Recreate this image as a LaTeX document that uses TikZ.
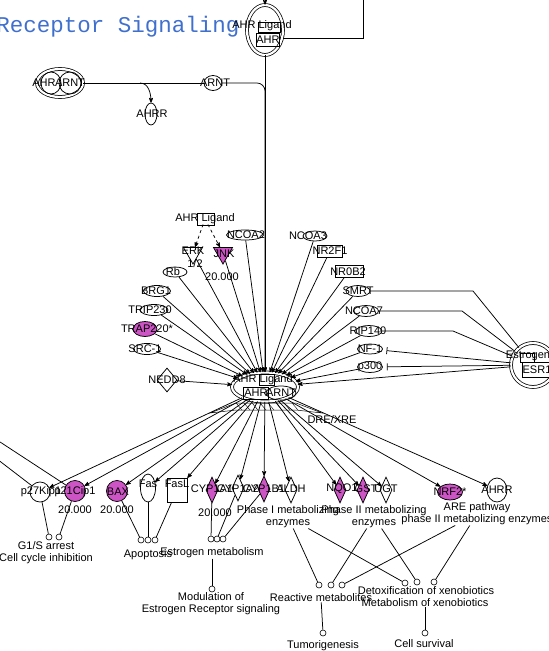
\documentclass[tikz,border=0pt]{standalone}
\usepackage{fontspec}
\setmainfont{Liberation Sans}
\newfontfamily\ttlfont{Liberation Mono}
\usetikzlibrary{arrows}
\usetikzlibrary{shapes.geometric}
\definecolor{hit}{RGB}{204,84,196}
\definecolor{ttl}{RGB}{64,112,206}

\begin{document}
\begin{tikzpicture}[x=1pt,y=-1pt,>=stealth',line width=0.75pt,
  every node/.style={font=\fontsize{11}{12}\selectfont,inner sep=0pt},
  gene/.style 2 args={draw,ellipse,minimum width=#1,minimum height=#2},
  box/.style 2 args={draw,rectangle,minimum width=#1,minimum height=#2},
  enz/.style={draw,diamond,minimum width=12pt,minimum height=26pt},
  kin/.style={draw,regular polygon,regular polygon sides=3,shape border rotate=180,minimum size=22pt},
  fn/.style={draw,circle,minimum size=6pt,line width=0.6pt},
  cx/.style={draw,ellipse,double,double distance=2.2pt}]
\useasboundingbox (0,0) rectangle (549,651);
\clip (0,0) rectangle (549,651);

\node[anchor=base west,font=\ttlfont\fontsize{22.5}{23}\selectfont,text=ttl] (title) at (-4,32) {Receptor Signaling};

% AHR complex at the top
\node[cx,minimum width=36pt,minimum height=50pt] (ahrtop) at (265,30) {};
\node (ahrtopt) at (262,26) {AHR Ligand};
\node[box={22pt}{10pt}] (ahrtopl) at (269,27) {};
\node[box={23pt}{13pt}] (ahrtopb) at (268,40) {AHR};
\coordinate (topin) at (265,-3);
\coordinate (topout) at (363,-3);
\draw[->] (topin) -- (ahrtop);
\draw ([yshift=-8pt]ahrtop.east) -| (topout);

% AHR/ARNT and AHRR
\node[cx,minimum width=46pt,minimum height=28pt] (ahrarnt) at (60,83) {};
\node[draw,ellipse,minimum width=20pt,minimum height=22pt] (ahrin) at (51,83) {};
\node[draw,ellipse,minimum width=22pt,minimum height=22pt] (arntin) at (70,83) {};
\node (ahrint) at (44,83) {AHR};
\node (arntint) at (70,83) {ARNT};
\node[gene={18pt}{15pt}] (arnt) at (213,83) {};
\node (arntt) at (215,83) {ARNT};
\coordinate (split) at (140,83);
\node[gene={12pt}{22pt}] (ahrr) at (151,114) {};
\node (ahrrt) at (152,114) {AHRR};
\draw (ahrarnt) -- (arnt);
\draw[->] (split) to[out=0,in=90] (ahrr);

% central complex
\node[cx,minimum width=66pt,minimum height=29pt] (cplx) at (265,387) {};
\node (cplxt) at (263,380) {AHR Ligand};
\node[box={15pt}{11pt}] (cplxl) at (267,380) {};
\node[box={25pt}{12pt}] (cplxb) at (256,393) {AHR};
\node[gene={30pt}{14pt}] (cplxe) at (281,393) {};
\node (cplxet) at (281,393) {ARNT};
\draw[line width=0.5pt] (210,413) -- (236,403) -- (296,403) -- (322,413) -- (296,410) -- (236,410) -- cycle;
\foreach \x in {242,250,...,298}
  \draw[line width=0.4pt] (\x,410) -- (\x-6,403);
\node (dre) at (332,420) {DRE/XRE};

% upper left partners
\node (lig) at (205,219) {AHR Ligand};
\node[box={17pt}{12pt}] (ligb) at (206,219) {};
\node[kin] (erk) at (193,253) {};
\node (erkt) at (193,251) {ERK};
\node (erkn) at (195,264) {1/2};
\node[kin,fill=hit] (jnk) at (223,253) {};
\node (jnkt) at (224,254) {JNK};
\node (jnkv) at (222,277) {20.000};
\draw[dashed,->] (lig) -- (erk);
\draw[dashed,->] (lig) -- (jnk);
\node[gene={37pt}{10pt}] (ncoa2) at (245,235) {};
\node (ncoa2t) at (246,235) {NCOA2};
\node[gene={24pt}{10pt}] (rb) at (175,272) {};
\node (rbt) at (173,272) {Rb};
\node[gene={27pt}{11pt}] (brg1) at (157,291) {};
\node (brg1t) at (156,291) {BRG1};
\node[gene={28pt}{11pt}] (trip) at (154,310) {};
\node (tript) at (150,310) {TRIP230};
\node[gene={24pt}{15pt},fill=hit] (trap) at (145,329) {};
\node (trapt) at (147,329) {TRAP220*};
\node[gene={27pt}{11pt}] (src) at (147,349) {};
\node (srct) at (145,349) {SRC-1};
\node[draw,diamond,minimum width=20pt,minimum height=24pt] (nedd8) at (167,380) {};
\node (nedd8t) at (167,380) {NEDD8};

% upper right partners
\node[gene={24pt}{10pt}] (ncoa3) at (315,236) {};
\node (ncoa3t) at (308,236) {NCOA3};
\node[box={25pt}{12pt}] (nr2f1) at (330,251) {};
\node (nr2f1t) at (330,251) {NR2F1};
\node[box={28pt}{12pt}] (nr0b2) at (349,271) {};
\node (nr0b2t) at (348,272) {NR0B2};
\node[gene={24pt}{11pt}] (smrt) at (358,291) {};
\node (smrtt) at (358,291) {SMRT};
\node[gene={25pt}{11pt}] (ncoa7) at (366,311) {};
\node (ncoa7t) at (364,311) {NCOA7};
\node[gene={26pt}{11pt}] (rip140) at (369,331) {};
\node (rip140t) at (368,331) {RIP140};
\node[gene={25pt}{10pt}] (nf1) at (370,349) {};
\node (nf1t) at (370,349) {NF-1};
\node[gene={25pt}{11pt}] (p300) at (370,367) {};
\node (p300t) at (370,367) {p300};

% estrogen receptor
\node[draw,circle,double,double distance=2.2pt,minimum size=44pt] (esr) at (533,365) {};
\node[box={14pt}{9pt}] (esrl) at (527,358) {};
\node (esrt) at (528,356) {Estrogen};
\node[box={30pt}{15pt}] (esrb) at (537,370) {ESR1};
\draw (smrt) -- (473,291) -- (esr);
\draw (ncoa7) -- (462,311) -- (esr);
\draw (rip140) -- (453,331) -- (esr);
\draw[-|,shorten >=4pt] (esr) -- (nf1);
\draw[-|,shorten >=4pt] (esr) -- (p300);
\draw[->] (esr) -- (cplx);

% into the complex
\foreach \n in {ncoa2,erk,jnk,rb,brg1,trip,trap,src,nedd8,ncoa3,nr2f1,nr0b2,smrt,ncoa7,rip140,nf1,p300}
  \draw[->] (\n) -- (cplx);
\draw[->] (ahrtop) -- (cplx);
\draw[->,rounded corners=8pt] (arnt) -| (cplx);

% targets
\node[draw,circle,minimum size=20pt] (p27) at (40,492) {};
\node (p27t) at (41,492) {p27Kip1};
\node[draw,circle,minimum size=21pt,fill=hit] (p21) at (75,491) {};
\node (p21t) at (75,492) {p21Cip1};
\node (p21v) at (75,510) {20.000};
\node[draw,circle,minimum size=21pt,fill=hit] (bax) at (117,491) {};
\node (baxt) at (118,492) {BAX};
\node (baxv) at (117,510) {20.000};
\node[gene={15pt}{28pt}] (fas) at (148,488) {};
\node (fast) at (148,484) {Fas};
\node[box={20pt}{24pt}] (fasl) at (177,490) {};
\node (faslt) at (177,484) {FasL};
\node[enz,fill=hit] (cyp1a1) at (212,490) {};
\node[enz] (cyp1a2) at (238,488) {};
\node[enz,fill=hit] (cyp1b1) at (264,489) {};
\node[enz] (aldh) at (291,490) {};
\node (cyp1a1t) at (212,489) {CYP1A1};
\node (cyp1a2t) at (238,489) {CYP1A2};
\node (cyp1b1t) at (264,489) {CYP1B1};
\node (aldht) at (291,489) {ALDH};
\node (cyp1a1v) at (215,513) {20.000};
\node[enz,fill=hit] (nqo1) at (340,490) {};
\node[enz,fill=hit] (gst) at (363,490) {};
\node[enz] (ugt) at (386,490) {};
\node (nqo1t) at (342,489) {NQO1};
\node (gstt) at (366,489) {GST};
\node (ugtt) at (386,489) {UGT};
\node[gene={25pt}{16pt},fill=hit] (nrf2) at (450,492) {};
\node (nrf2t) at (450,492) {NRF2*};
\node[gene={20pt}{24pt}] (ahrrb) at (497,490) {};
\node (ahrrbt) at (497,490) {AHRR};
\foreach \n in {p27,p21,bax,fas,fasl,cyp1a1,cyp1a2,cyp1b1,aldh,nqo1,gst,ugt,nrf2,ahrrb}
  \draw[->] (cplx) -- (\n);
\coordinate (offa) at (-3,440);
\coordinate (offb) at (-3,459);
\draw (offa) -- (p21);
\draw (offb) -- (p27);

\node[align=center] (ph1) at (288,517) {Phase I metabolizing\\enzymes};
\node[align=center] (ph2) at (374,517) {Phase II metabolizing\\enzymes};
\node[align=center] (are) at (477,514) {ARE pathway\\phase II metabolizing enzymes};

% functions
\node[fn] (g1a) at (49,537) {};
\node[fn] (g1b) at (59,537) {};
\node[align=center] (g1s) at (46,553) {G1/S arrest\\Cell cycle inhibition};
\node[fn] (ap1) at (141,540) {};
\node[fn] (ap2) at (148,540) {};
\node[fn] (ap3) at (155,540) {};
\node (apop) at (148,555) {Apoptosis};
\node[fn] (em1) at (211,539) {};
\node[fn] (em2) at (217,539) {};
\node[fn] (em3) at (223,539) {};
\node (estm) at (212,553) {Estrogen metabolism};
\node[fn] (modc) at (212,589) {};
\node[align=center] (mod) at (211,604) {Modulation of\\Estrogen Receptor signaling};
\node[fn] (rm1) at (319,585) {};
\node[fn] (rm2) at (331,585) {};
\node[fn] (rm3) at (342,585) {};
\node (react) at (321,598) {Reactive metabolites};
\node[fn] (tumc) at (323,633) {};
\node (tum) at (323,646) {Tumorigenesis};
\node[fn] (dx1) at (405,583) {};
\node[fn] (dx2) at (417,582) {};
\node[fn] (mx1) at (434,582) {};
\node (detox) at (426,591) {Detoxification of xenobiotics};
\node (metab) at (425,603) {Metabolism of xenobiotics};
\node[fn] (survc) at (425,633) {};
\node (surv) at (424,644) {Cell survival};

\draw (p27) -- (g1a);
\draw (p21) -- (g1b);
\draw (bax) -- (ap1);
\draw (fas) -- (ap2);
\draw (fasl) -- (ap3);
\draw (cyp1a1) -- (em1);
\draw (cyp1a2) -- (em2);
\draw (cyp1b1) -- (em3);
\draw (estm) -- (modc);
\draw (ph1) -- (rm1);
\draw (ph1) -- (dx1);
\draw (ph2) -- (rm2);
\draw (ph2) -- (dx2);
\draw (are) -- (rm3);
\draw (are) -- (mx1);
\draw (react) -- (tumc);
\draw (metab) -- (survc);
\end{tikzpicture}
\end{document}
